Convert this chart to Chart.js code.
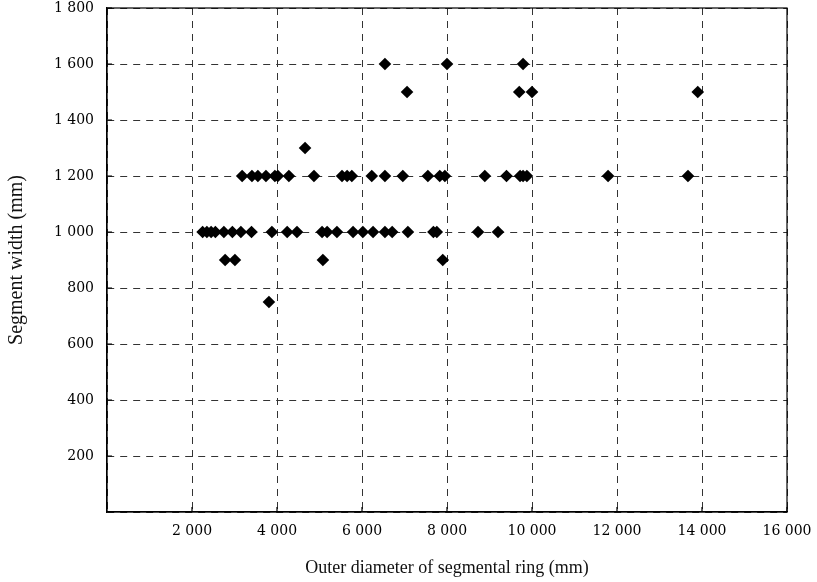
<!DOCTYPE html>
<html lang="en">
<head>
<meta charset="UTF-8">
<title>Segment width vs outer diameter</title>
<style>
  html, body { margin: 0; padding: 0; background: #fff; }
  #wrap { width: 817px; height: 582px; }
</style>
</head>
<body>
<div id="wrap"><canvas id="myChart"></canvas></div>
<script src="https://cdn.jsdelivr.net/npm/chart.js@4"></script>
<script>
// segment widths (mm) and the ring diameters (mm) found at each width
const width750 = [3810];
const width900 = [2780, 3010, 5080, 7900];
const width1000 = [2250, 2350, 2450, 2550, 2750, 2950, 3150, 3400, 3880, 4240, 4470,
                   5060, 5180, 5410, 5790, 6020, 6260, 6540, 6710, 7080, 7680, 7760, 8730, 9200];
const width1200 = [3180, 3410, 3550, 3740, 3950, 4020, 4280, 4870, 5530, 5650, 5760,
                   6230, 6540, 6960, 7550, 7830, 7950, 8890, 9400, 9720, 9790, 9880, 11790, 13670];
const width1300 = [4660];
const width1500 = [7060, 9700, 10000, 13900];
const width1600 = [6540, 8000, 9790];

const xTicks = [2000, 4000, 6000, 8000, 10000, 12000, 14000, 16000];
const yTicks = [200, 400, 600, 800, 1000, 1200, 1400, 1600, 1800];

const rows = [
    [750, width750], [900, width900], [1000, width1000], [1200, width1200],
    [1300, width1300], [1500, width1500], [1600, width1600]
];
const points = [];
rows.forEach(function (r) {
    r[1].forEach(function (d) { points.push({x: d, y: r[0]}); });
});

function spaced(v) {
    return String(v).replace(/\B(?=(\d{3})+(?!\d))/g, ' ');
}

// box round the plot and small inward tick marks
const frame = {
    id: 'frame',
    afterDraw(chart) {
        const c = chart.ctx, a = chart.chartArea;
        const xs = chart.scales.x, ys = chart.scales.y;
        c.save();
        c.strokeStyle = '#000';
        c.lineWidth = 1.2;
        c.setLineDash([]);
        c.strokeRect(a.left, a.top, a.right - a.left, a.bottom - a.top);
        c.beginPath();
        xTicks.forEach(function (t) {
            const p = xs.getPixelForValue(t);
            c.moveTo(p, a.bottom); c.lineTo(p, a.bottom - 5);
        });
        yTicks.forEach(function (t) {
            const p = ys.getPixelForValue(t);
            c.moveTo(a.left, p); c.lineTo(a.left + 5, p);
        });
        c.stroke();
        c.restore();
    }
};

const tickFont = {family: 'DejaVu Serif', size: 14};
const titleFont = {family: 'Liberation Serif', size: 18};

var ctx = document.getElementById('myChart').getContext('2d');
var chart = new Chart(ctx, {
    type: 'scatter',
    data: {
        datasets: [{
            data: points,
            pointStyle: 'rectRot',
            radius: 6.3,
            hoverRadius: 6.3,
            backgroundColor: '#000',
            borderColor: '#000',
            borderWidth: 0
        }]
    },
    options: {
        responsive: true,
        maintainAspectRatio: false,
        animation: false,
        layout: {padding: {top: 8, right: 30, left: 0, bottom: 0}},
        plugins: {legend: {display: false}, tooltip: {enabled: false}},
        scales: {
            x: {
                type: 'linear',
                min: 0,
                max: 16000,
                afterFit: function (s) {
                    s.height = 70;
                    s.paddingLeft = 0;
                    s.paddingRight = 0;
                },
                afterBuildTicks: function (s) {
                    s.ticks = [0].concat(xTicks).map(function (v) { return {value: v}; });
                },
                ticks: {
                    font: tickFont,
                    color: '#000',
                    padding: 11,
                    maxRotation: 0,
                    callback: function (v) { return v === 0 ? '' : spaced(v); }
                },
                grid: {color: '#333', lineWidth: 1, drawTicks: false},
                border: {display: true, color: '#000', width: 1.2, dash: [7, 6]},
                title: {
                    display: true,
                    text: 'Outer diameter of segmental ring (mm)',
                    font: titleFont,
                    color: '#111',
                    padding: {top: 0, bottom: 3}
                }
            },
            y: {
                type: 'linear',
                min: 0,
                max: 1800,
                afterFit: function (s) {
                    s.width = 107;
                    s.paddingTop = 0;
                    s.paddingBottom = 0;
                },
                afterBuildTicks: function (s) {
                    s.ticks = [0].concat(yTicks).map(function (v) { return {value: v}; });
                },
                ticks: {
                    font: tickFont,
                    color: '#000',
                    padding: 13,
                    callback: function (v) { return v === 0 ? '' : spaced(v); }
                },
                grid: {color: '#333', lineWidth: 1, drawTicks: false},
                border: {display: true, color: '#000', width: 1.2, dash: [7, 6]},
                title: {
                    display: true,
                    text: 'Segment width (mm)',
                    font: {family: 'Liberation Serif', size: 20},
                    color: '#111',
                    padding: {top: 5, bottom: 0}
                }
            }
        }
    },
    plugins: [frame]
});
</script>
</body>
</html>
